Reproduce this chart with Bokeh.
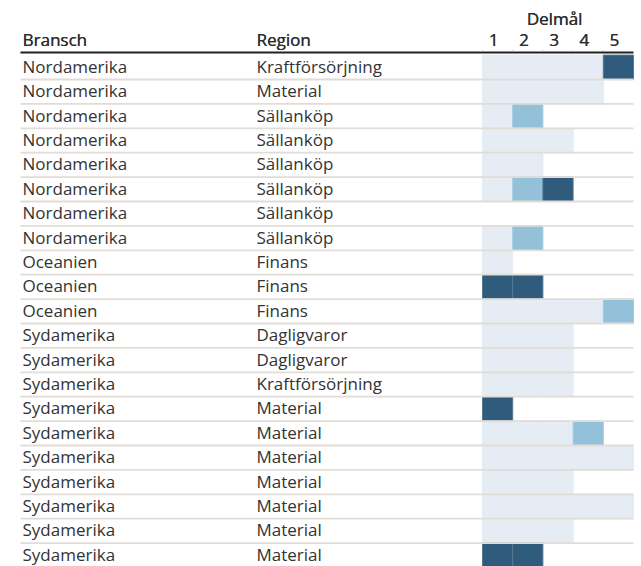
from bokeh.plotting import figure
from bokeh.models import Range1d, ColumnDataSource
from bokeh.core.properties import value
from bokeh.embed import file_html
from bokeh.resources import INLINE

# ---------------- data ----------------
bransch = ["Nordamerika"] * 8 + ["Oceanien"] * 3 + ["Sydamerika"] * 10
region = ["Kraftförsörjning", "Material", "Sällanköp", "Sällanköp", "Sällanköp",
          "Sällanköp", "Sällanköp", "Sällanköp", "Finans", "Finans", "Finans",
          "Dagligvaror", "Dagligvaror", "Kraftförsörjning", "Material", "Material",
          "Material", "Material", "Material", "Material", "Material"]
goals = ["1", "2", "3", "4", "5"]
# status per goal: 0 = none, 1 = light, 2 = medium, 3 = dark
status = [
    [1, 1, 1, 1, 3],
    [1, 1, 1, 1, 0],
    [1, 2, 0, 0, 0],
    [1, 1, 1, 0, 0],
    [1, 1, 0, 0, 0],
    [1, 2, 3, 0, 0],
    [0, 0, 0, 0, 0],
    [1, 2, 0, 0, 0],
    [1, 0, 0, 0, 0],
    [3, 3, 0, 0, 0],
    [1, 1, 1, 1, 2],
    [1, 1, 1, 0, 0],
    [1, 1, 1, 0, 0],
    [1, 1, 1, 0, 0],
    [3, 0, 0, 0, 0],
    [1, 1, 1, 2, 0],
    [1, 1, 1, 1, 1],
    [1, 1, 1, 0, 0],
    [1, 1, 1, 1, 1],
    [1, 1, 1, 0, 0],
    [3, 3, 0, 0, 0],
]
status_fill = {1: "#e5ecf3", 2: "#93c1d9", 3: "#2f5b7c"}
status_line = {1: "#e5ecf3", 2: "#a3cadf", 3: "#56778f"}

# ---------------- layout (plot pixel geometry) ----------------
W, H = 641, 566
COL_W, ROW_H = 30.2, 24.4
GRID_LEFT_PX = 482.0   # left edge of goal column 1
ROW_TOP_PX = 54.6      # top edge of row 1


def xu(px):
    return (px - GRID_LEFT_PX) / COL_W + 0.5


def yu(px):
    return (px - ROW_TOP_PX) / ROW_H + 0.5


FONT = value("Open Sans")
FS = "17px"
TEXT_COLOR = "#333333"
HEAD_COLOR = "#2e2e2e"

p = figure(width=W, height=H, output_backend="svg", toolbar_location=None,
           x_range=Range1d(xu(0), xu(W)), y_range=Range1d(yu(H), yu(0)),
           x_axis_type=None, y_axis_type=None, min_border=0,
           outline_line_color=None, background_fill_color="white",
           border_fill_color="white")
p.grid.visible = False

n = len(bransch)
rows = list(range(1, n + 1))

# cells
cx, cy, cf, cl = [], [], [], []
for r, st in zip(rows, status):
    for j, s in enumerate(st):
        if s:
            cx.append(j + 1)
            cy.append(r)
            cf.append(status_fill[s])
            cl.append(status_line[s])
p.rect(x="x", y="y", width=1, height=1,
       source=ColumnDataSource(dict(x=cx, y=cy, f=cf, l=cl)),
       fill_color="f", line_color="l", line_width=1)

# row separators
sep_y = [r + 0.5 for r in rows]
p.segment(x0=[xu(20)] * len(sep_y), x1=[xu(633)] * len(sep_y), y0=sep_y, y1=sep_y,
          line_color="#e2dcd6", line_width=1.8)

# header rule
p.segment(x0=[xu(20)], x1=[xu(633)], y0=[yu(52)], y1=[yu(52)],
          line_color="#222222", line_width=2.2)
tick_x = [j + 0.5 for j in range(len(goals))]
p.segment(x0=tick_x, x1=tick_x, y0=[yu(50)] * len(tick_x), y1=[yu(51.5)] * len(tick_x),
          line_color="#999999", line_width=1)

# body text
body = ColumnDataSource(dict(y=[r - 0.04 for r in rows], b=bransch, reg=region))
p.text(x=xu(22), y="y", text="b", source=body, text_font=FONT,
       text_font_size=FS, text_color=TEXT_COLOR, text_baseline="middle",
       text_align="left")
p.text(x=xu(256), y="y", text="reg", source=body, text_font=FONT,
       text_font_size=FS, text_color=TEXT_COLOR, text_baseline="middle",
       text_align="left")

# header text (drawn twice with a sub-pixel shift for a medium weight)
for dx in (0.0, 0.3):
    p.text(x=[xu(22 + dx), xu(256 + dx)], y=[yu(39)] * 2, text=["Bransch", "Region"],
           text_font=FONT, text_font_size=FS, text_color=HEAD_COLOR,
           text_baseline="middle", text_align="left")
    p.text(x=[j + 1 + (dx - 4) / COL_W for j in range(len(goals))],
           y=[yu(39)] * len(goals),
           text=goals, text_font=FONT, text_font_size=FS, text_color=HEAD_COLOR,
           text_baseline="middle", text_align="center")
    p.text(x=[xu(554 + dx)], y=[yu(18)], text=["Delmål"], text_font=FONT,
           text_font_size=FS, text_color=HEAD_COLOR, text_baseline="middle",
           text_align="center")

open("out.html", "w").write(file_html(p, INLINE))
